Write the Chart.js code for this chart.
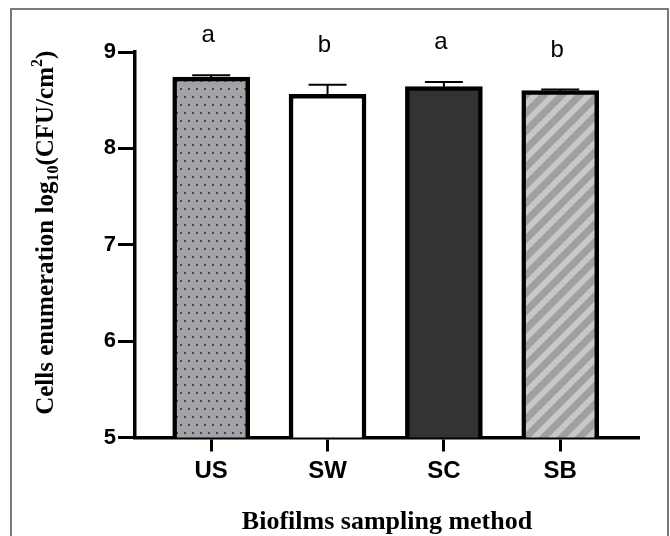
<!DOCTYPE html>
<html>
<head>
<meta charset="utf-8">
<script src="https://cdn.jsdelivr.net/npm/chart.js@4.4.1/dist/chart.umd.min.js"></script>
<style>
  html, body { margin: 0; padding: 0; background: #ffffff; overflow: hidden; }
  #wrap { position: relative; width: 670px; height: 536px; }
  #frame { position: absolute; left: 10px; top: 8px; width: 655px; height: 600px;
           border: 2px solid #7a7a7a; pointer-events: none; }
  canvas { position: absolute; left: 0; top: 0; }
</style>
</head>
<body>
<div id="wrap">
  <canvas id="c" width="670" height="536"></canvas>
  <div id="frame"></div>
</div>
<script>
// ---- data ----
const categories = ['US', 'SW', 'SC', 'SB'];
const means      = [8.74, 8.56, 8.64, 8.60];
const errors     = [0.02, 0.10, 0.05, 0.01];
const sigLetters = ['a', 'b', 'a', 'b'];
const yTickValues = [5, 6, 7, 8, 9];
const xTitle = 'Biofilms sampling method';
const yTitleParts = [
  { text: 'Cells enumeration log', mode: 'normal' },
  { text: '10', mode: 'sub' },
  { text: '(CFU/cm', mode: 'normal' },
  { text: '2', mode: 'sup' },
  { text: ')', mode: 'normal' }
];

// ---- fill patterns ----
function dotPattern() {
  const t = document.createElement('canvas');
  t.width = 8; t.height = 16;
  const g = t.getContext('2d');
  g.fillStyle = '#a2a2a8'; g.fillRect(0, 0, 8, 16);
  g.fillStyle = '#4a4a4e';
  g.fillRect(0, 0, 2, 2);
  g.fillRect(4, 8, 2, 2);
  return g.createPattern(t, 'repeat');
}
function stripePattern() {
  const P = 18;
  const t = document.createElement('canvas');
  t.width = P; t.height = P;
  const g = t.getContext('2d');
  g.fillStyle = '#a0a0a2'; g.fillRect(0, 0, P, P);
  g.strokeStyle = '#c8c8c8';
  g.lineWidth = 5.8;
  for (let k = -2; k <= 2; k++) {
    g.beginPath();
    g.moveTo(k * P - P, 2 * P);
    g.lineTo(k * P + 2 * P, -P);
    g.stroke();
  }
  return g.createPattern(t, 'repeat');
}

const fills = [dotPattern(), '#ffffff', '#333333', stripePattern()];

// ---- plugins ----
const errorBarPlugin = {
  id: 'errorBars',
  afterDatasetsDraw(chart) {
    const ctx = chart.ctx;
    const meta = chart.getDatasetMeta(0);
    const ys = chart.scales.y;
    ctx.save();
    ctx.strokeStyle = '#000';
    ctx.lineWidth = 2;
    meta.data.forEach((bar, i) => {
      const x = bar.x;
      const yBar = ys.getPixelForValue(means[i]);
      const yTop = ys.getPixelForValue(means[i] + errors[i]);
      ctx.beginPath();
      ctx.moveTo(x, yBar + 2);
      ctx.lineTo(x, yTop);
      ctx.moveTo(x - 19, yTop);
      ctx.lineTo(x + 19, yTop);
      ctx.stroke();
      ctx.fillStyle = '#000';
      ctx.font = '24px "Liberation Sans", Arial, sans-serif';
      ctx.textAlign = 'center';
      ctx.textBaseline = 'alphabetic';
      ctx.fillText(sigLetters[i], x - 3, yTop - 33);
    });
    ctx.restore();
  }
};

const yTitlePlugin = {
  id: 'yTitle',
  afterDraw(chart) {
    const ctx = chart.ctx;
    const area = chart.chartArea;
    const mainFont = 'bold 25px "Liberation Serif", "Times New Roman", serif';
    const smallFont = 'bold 16px "Liberation Serif", "Times New Roman", serif';
    ctx.save();
    let total = 0;
    const widths = yTitleParts.map(p => {
      ctx.font = p.mode === 'normal' ? mainFont : smallFont;
      const w = ctx.measureText(p.text).width;
      total += w;
      return w;
    });
    const cy = (area.top + area.bottom) / 2 - 12;
    ctx.translate(53, cy);
    ctx.rotate(-Math.PI / 2);
    ctx.fillStyle = '#000';
    ctx.textAlign = 'left';
    ctx.textBaseline = 'alphabetic';
    let x = -total / 2;
    yTitleParts.forEach((p, i) => {
      ctx.font = p.mode === 'normal' ? mainFont : smallFont;
      const dy = p.mode === 'sub' ? 5 : (p.mode === 'sup' ? -11 : 0);
      ctx.fillText(p.text, x, dy);
      x += widths[i];
    });
    ctx.restore();
  }
};

Chart.defaults.font.family = '"Liberation Sans", Arial, sans-serif';
Chart.defaults.color = '#000';

new Chart(document.getElementById('c'), {
  type: 'bar',
  data: {
    datasets: [{
      data: means.map((v, i) => ({ x: i, y: v })),
      backgroundColor: fills,
      borderColor: '#000',
      borderWidth: 4.5,
      borderSkipped: 'start',
      barThickness: 77
    }]
  },
  options: {
    responsive: false,
    animation: false,
    events: [],
    layout: { padding: { top: 52, right: 31, left: 0, bottom: 0 } },
    plugins: { legend: { display: false }, tooltip: { enabled: false } },
    scales: {
      x: {
        type: 'linear',
        min: -0.655,
        max: 3.677,
        offset: false,
        afterBuildTicks: s => { s.ticks = categories.map((_, i) => ({ value: i })); },
        afterFit: s => { s.height = 98.5; },
        ticks: {
          callback: v => categories[v],
          font: { size: 24, weight: 'bold' },
          color: '#000',
          padding: 5,
          autoSkip: false,
          maxRotation: 0
        },
        grid: { offset: false, drawOnChartArea: false, tickLength: 14, tickWidth: 3, tickColor: '#000' },
        border: { color: '#000', width: 3.5 },
        title: {
          display: true,
          text: xTitle,
          color: '#000',
          font: { family: '"Liberation Serif", "Times New Roman", serif', size: 26, weight: 'bold', lineHeight: 1.05 },
          padding: { top: 0, bottom: 0 }
        }
      },
      y: {
        min: 5,
        max: 9,
        afterBuildTicks: s => { s.ticks = yTickValues.map(v => ({ value: v })); },
        afterFit: s => { s.width = 135; },
        ticks: {
          font: { size: 22, weight: 'bold' },
          color: '#000',
          padding: 2
        },
        grid: { drawOnChartArea: false, tickLength: 17, tickWidth: 3, tickColor: '#000' },
        border: { color: '#000', width: 3.5 }
      }
    }
  },
  plugins: [errorBarPlugin, yTitlePlugin]
});
</script>
</body>
</html>
